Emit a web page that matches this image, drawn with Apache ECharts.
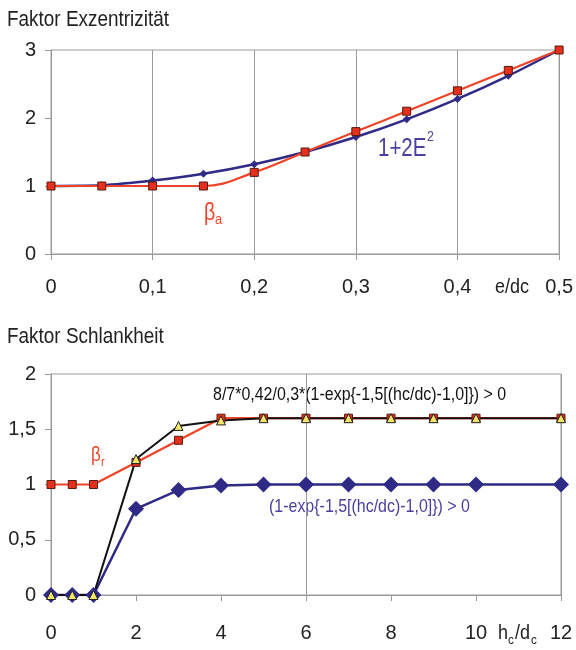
<!DOCTYPE html>
<html>
<head>
<meta charset="utf-8">
<script src="https://cdn.jsdelivr.net/npm/echarts@6/dist/echarts.min.js"></script>
<style>
html,body{margin:0;padding:0;background:#fff;}
#c{width:576px;height:650px;}
</style>
</head>
<body>
<div id="c"></div>
<script>
// Top chart: Faktor Exzentrizität
var topX = [0, 0.05, 0.1, 0.15, 0.2, 0.25, 0.3, 0.35, 0.4, 0.45, 0.5];
var topBetaA = [1, 1, 1, 1, 1.2, 1.5, 1.8, 2.1, 2.4, 2.7, 3];
var topE2 = [1, 1.01, 1.08, 1.18, 1.32, 1.5, 1.72, 1.98, 2.28, 2.62, 3];
// Bottom chart: Faktor Schlankheit
var botX = [0, 0.5, 1, 2, 3, 4, 5, 6, 7, 8, 9, 10, 12];
var botBetaR = [1, 1, 1, 1.2, 1.4, 1.6, 1.6, 1.6, 1.6, 1.6, 1.6, 1.6, 1.6];
var botBlack = [0, 0, 0, 1.23, 1.53, 1.58, 1.6, 1.6, 1.6, 1.6, 1.6, 1.6, 1.6];
var botBlue = [0, 0, 0, 0.78, 0.95, 0.99, 1, 1, 1, 1, 1, 1, 1];

function pairs(xs, ys){ return xs.map(function(x,i){ return [x, ys[i]]; }); }
function comma(v){ return String(Math.round(v*10)/10).replace('.', ','); }

var SANS = "'Liberation Sans',Arial,sans-serif";
var GRAY = '#9a9a9a';
var RED = '#ec4426';
var BLUE = '#2e2a86';
var PURPLE = '#4a3f9e';

var chart = echarts.init(document.getElementById('c'), null, {renderer:'canvas'});

function axisCommon(){
  return {
    axisLine:{show:true, lineStyle:{color:GRAY, width:1}},
    axisTick:{show:true, length:6, lineStyle:{color:GRAY}},
    axisLabel:{color:'#222', fontSize:20, fontFamily:SANS, formatter:comma}
  };
}

var x0 = axisCommon();
var x1 = axisCommon();
var y0 = axisCommon();
var y1 = axisCommon();

function txt(x, y, text, size, color, sx){
  return {type:'text', x:x, y:y, scaleX:sx || 1,
    style:{text:text, fontSize:size, fontFamily:SANS, fill:color, verticalAlign:'middle'}};
}

var option = {
  animation:false,
  backgroundColor:'#fff',
  grid:[
    {left:51, right:15, top:50, height:204, show:true, borderColor:GRAY, borderWidth:1, backgroundColor:'transparent'},
    {left:51, right:15, top:374, height:221, show:true, borderColor:GRAY, borderWidth:1, backgroundColor:'transparent'}
  ],
  xAxis:[
    Object.assign(x0, {type:'value', gridIndex:0, min:0, max:0.5, interval:0.1,
      splitLine:{show:true, lineStyle:{color:GRAY, width:1}},
      axisLabel:Object.assign(x0.axisLabel, {margin:23})}),
    Object.assign(x1, {type:'value', gridIndex:1, min:0, max:12, interval:2,
      splitLine:{show:false},
      axisLabel:Object.assign(x1.axisLabel, {margin:28})}),
    {type:'value', gridIndex:1, min:0, max:12, interval:6, position:'top',
      axisLine:{show:false}, axisTick:{show:false}, axisLabel:{show:false},
      splitLine:{show:true, lineStyle:{color:GRAY, width:1}}}
  ],
  yAxis:[
    Object.assign(y0, {type:'value', gridIndex:0, min:0, max:3, interval:1,
      splitLine:{show:false},
      axisLabel:Object.assign(y0.axisLabel, {margin:15})}),
    Object.assign(y1, {type:'value', gridIndex:1, min:0, max:2, interval:0.5,
      splitLine:{show:false},
      axisLabel:Object.assign(y1.axisLabel, {margin:15})})
  ],
  series:[
    {type:'line', xAxisIndex:0, yAxisIndex:0, data:pairs(topX, topE2),
      symbol:'diamond', symbolSize:8, smooth:0.2,
      lineStyle:{color:BLUE, width:2.5}, itemStyle:{color:BLUE}},
    {type:'line', xAxisIndex:0, yAxisIndex:0, data:pairs(topX, topBetaA),
      symbol:'rect', symbolSize:8, smooth:0.4,
      lineStyle:{color:RED, width:2.2}, itemStyle:{color:'#e4301c', borderColor:'#5a1a0e', borderWidth:1}},
    {type:'line', xAxisIndex:1, yAxisIndex:1, data:pairs(botX, botBetaR),
      symbol:'rect', symbolSize:8,
      lineStyle:{color:RED, width:2.2}, itemStyle:{color:'#e4301c', borderColor:'#5a1a0e', borderWidth:1}},
    {type:'line', xAxisIndex:1, yAxisIndex:1, data:pairs(botX, botBlue),
      symbol:'diamond', symbolSize:16,
      lineStyle:{color:BLUE, width:2.5}, itemStyle:{color:BLUE}},
    {type:'line', xAxisIndex:1, yAxisIndex:1, data:pairs(botX, botBlack),
      symbol:'triangle', symbolSize:9,
      lineStyle:{color:'#111', width:2}, itemStyle:{color:'#f2e66a', borderColor:'#222', borderWidth:1}}
  ],
  graphic:[
    txt(7, 20, 'Faktor Exzentrizität', 22, '#222', 0.86),
    txt(7, 337, 'Faktor Schlankheit', 22, '#222', 0.86),
    txt(495, 287, 'e/dc', 20, '#222', 0.9),
    txt(378, 149, '1+2E', 25, PURPLE, 0.82),
    txt(427, 137, '2', 15, PURPLE, 0.82),
    txt(204, 214, 'β', 23, RED, 0.85),
    txt(215, 220, 'a', 15, RED, 0.85),
    txt(91, 455, 'β', 20, RED, 0.85),
    txt(101, 462, 'r', 13, RED, 0.85),
    txt(213, 395, '8/7*0,42/0,3*(1-exp{-1,5[(hc/dc)-1,0]}) > 0', 19, '#111', 0.84),
    txt(269, 507, '(1-exp{-1,5[(hc/dc)-1,0]}) > 0', 19, PURPLE, 0.84),
    txt(498, 633, 'h', 20, '#222', 0.9),
    txt(508, 640, 'c', 13, '#222', 0.9),
    txt(515, 633, '/d', 20, '#222', 0.9),
    txt(531, 640, 'c', 13, '#222', 0.9)
  ]
};
chart.setOption(option);
</script>
</body>
</html>
